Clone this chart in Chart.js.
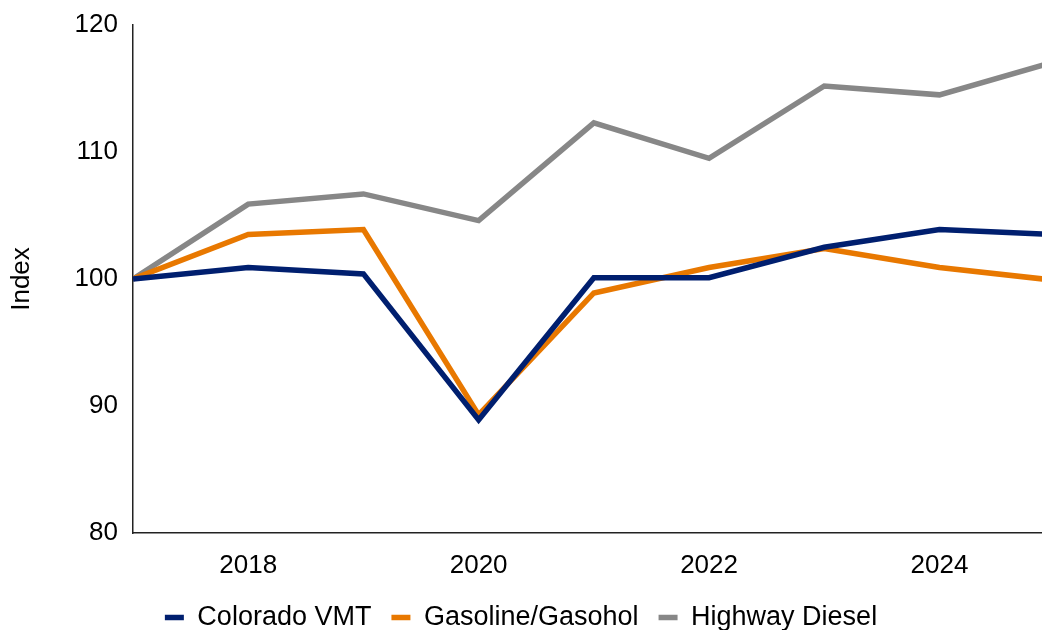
<!DOCTYPE html>
<html>
<head>
<meta charset="utf-8">
<title>Colorado VMT and fuel index</title>
<script src="https://cdn.jsdelivr.net/npm/chart.js@4"></script>
<style>
  html, body { margin: 0; padding: 0; background: #fff; overflow: hidden; }
  #wrap { width: 1042px; height: 630px; overflow: hidden; }
</style>
</head>
<body>
<div id="wrap">
  <canvas id="chart" width="1042" height="641"></canvas>
</div>
<script>
// data (index, 2017 = 100)
const years = [2017, 2018, 2019, 2020, 2021, 2022, 2023, 2024, 2025];
const coloradoVMT = [100, 100.9, 100.4, 88.9, 100.1, 100.1, 102.5, 103.9, 103.5];
const gasoline = [100, 103.5, 103.9, 89.3, 98.9, 100.9, 102.4, 100.9, 99.9];
const highwayDiesel = [100, 105.9, 106.7, 104.6, 112.3, 109.5, 115.2, 114.5, 117.1];
const xTicks = [2018, 2020, 2022, 2024];
const seriesNames = ['Colorado VMT', 'Gasoline/Gasohol', 'Highway Diesel'];

const colors = ['#001f6f', '#e87800', '#878787'];
const font = 'Liberation Sans, Arial, sans-serif';

// punkter {x, y} fran arrayerna
function toPoints(values) {
  return years.map((y, i) => ({ x: y, y: values[i] }));
}

const datasets = [coloradoVMT, gasoline, highwayDiesel].map((vals, i) => ({
  label: seriesNames[i],
  data: toPoints(vals),
  borderColor: colors[i],
  backgroundColor: colors[i],
  borderWidth: 5.5,
  pointRadius: 0,
  pointStyle: 'line',
  tension: 0,
  borderJoinStyle: 'miter',
}));

new Chart(document.getElementById('chart'), {
  type: 'line',
  data: { datasets },
  options: {
    responsive: false,
    animation: false,
    layout: { padding: { top: 25, right: 0, left: 0, bottom: 0 } },
    plugins: {
      tooltip: { enabled: false },
      legend: {
        position: 'bottom',
        labels: {
          color: '#000',
          font: { family: font, size: 27 },
          usePointStyle: true,
          pointStyle: 'line',
          pointStyleWidth: 19,
          boxWidth: 19,
          padding: 20,
        },
      },
    },
    scales: {
      x: {
        type: 'linear',
        min: 2017,
        max: 2024.89,
        grid: { display: false, drawTicks: false },
        border: { display: true, color: '#222', width: 1.5 },
        ticks: {
          color: '#000',
          font: { family: font, size: 26 },
          padding: 17,
          callback: v => String(v),
        },
        afterBuildTicks: axis => { axis.ticks = xTicks.map(v => ({ value: v })); },
        afterFit: axis => { axis.height = 51; axis.paddingLeft = 0; axis.paddingRight = 0; },
      },
      y: {
        min: 80,
        max: 120,
        grid: { display: false, drawTicks: false },
        border: { display: true, color: '#222', width: 1.5 },
        ticks: {
          stepSize: 10,
          color: '#000',
          font: { family: font, size: 26 },
          padding: 15,
        },
        title: {
          display: true,
          text: 'Index',
          color: '#000',
          font: { family: font, size: 26 },
          padding: { top: 6, bottom: 0 },
        },
        afterFit: axis => { axis.width = 133; axis.paddingTop = 0; axis.paddingBottom = 0; },
      },
    },
  },
});
</script>
</body>
</html>
